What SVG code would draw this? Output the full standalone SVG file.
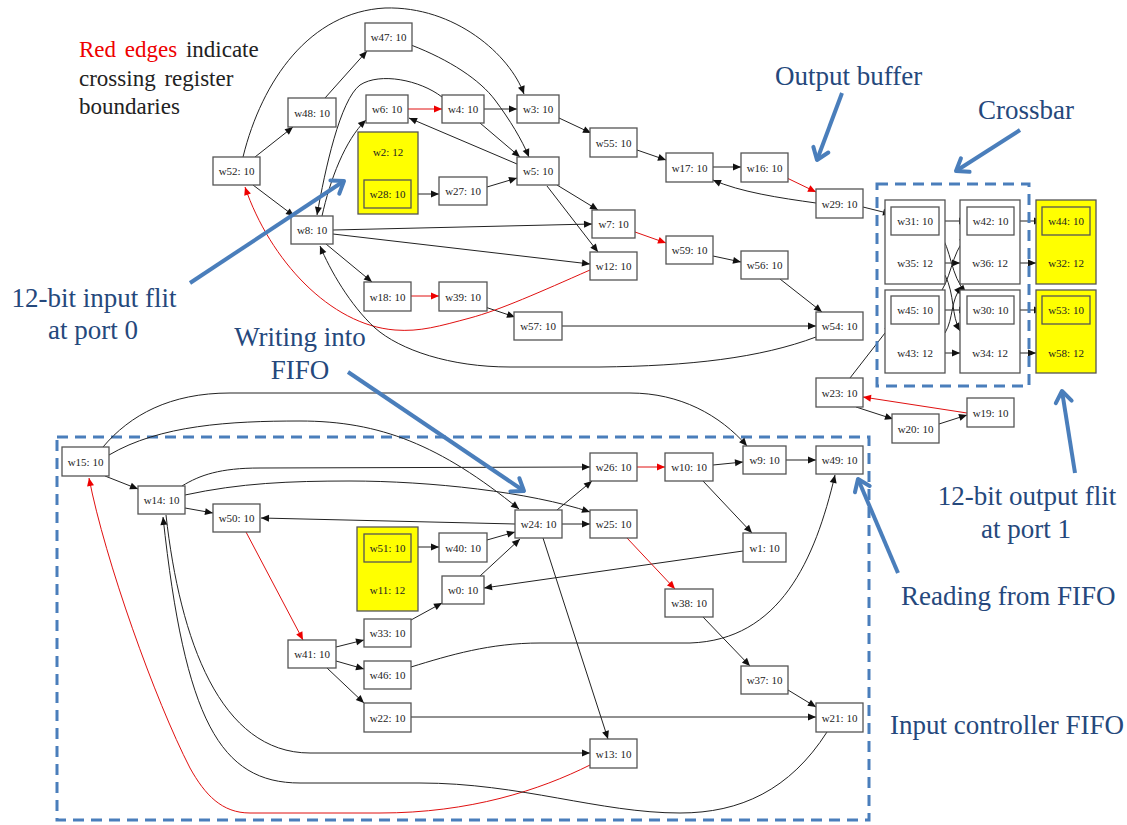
<svg xmlns="http://www.w3.org/2000/svg" width="1127" height="825" viewBox="0 0 1127 825">
<style>
.n rect{fill:#fff;stroke:#555;stroke-width:1.3}
.n rect.y{fill:#ffff00}
.n text{font-family:"Liberation Serif","Times New Roman",serif;font-size:11px;fill:#222;text-anchor:middle}
.e path{fill:none;stroke:#222;stroke-width:1;marker-end:url(#ah)}
.e path.r{stroke:#e01010;marker-end:url(#ahr)}
.dash{fill:none;stroke:#4a7ebb;stroke-width:3;stroke-dasharray:11 7}
.ba{fill:none;stroke:#4a7ebb;stroke-width:4;marker-end:url(#bh)}
.lbl{font-family:"Liberation Serif","Times New Roman",serif;font-size:27px;fill:#25487c}
.note{font-family:"Liberation Serif","Times New Roman",serif;font-size:23px;fill:#222;word-spacing:3px}
</style>
<defs>
<marker id="ah" markerUnits="userSpaceOnUse" markerWidth="9" markerHeight="8" refX="8" refY="3.5" orient="auto" overflow="visible"><path d="M0,0 L8,3.5 L0,7 z" fill="#111"/></marker>
<marker id="ahr" markerUnits="userSpaceOnUse" markerWidth="9" markerHeight="8" refX="8" refY="3.5" orient="auto" overflow="visible"><path d="M0,0 L8,3.5 L0,7 z" fill="#e00"/></marker>
<marker id="bh" markerUnits="userSpaceOnUse" markerWidth="16" markerHeight="16" refX="0" refY="0" orient="auto" overflow="visible"><path d="M-11,-8 L0,0 L-11,8" fill="none" stroke="#4a7ebb" stroke-width="4" stroke-linecap="round" stroke-linejoin="round"/></marker>
</defs>
<rect width="1127" height="825" fill="#fff"/>

<g id="annotations-text">
<text class="note" x="79" y="57"><tspan fill="#e00">Red edges</tspan> indicate</text>
<text class="note" x="79" y="86">crossing register</text>
<text class="note" x="79" y="114">boundaries</text>
<text class="lbl" x="775" y="85">Output buffer</text>
<text class="lbl" x="978" y="119">Crossbar</text>
<text class="lbl" x="94" y="307" text-anchor="middle">12-bit input flit</text>
<text class="lbl" x="93" y="339" text-anchor="middle">at port 0</text>
<text class="lbl" x="300" y="346" text-anchor="middle">Writing into</text>
<text class="lbl" x="300" y="379" text-anchor="middle">FIFO</text>
<text class="lbl" x="1027" y="505" text-anchor="middle">12-bit output flit</text>
<text class="lbl" x="1026" y="538" text-anchor="middle">at port 1</text>
<text class="lbl" x="901" y="605">Reading from FIFO</text>
<text class="lbl" x="890" y="734">Input controller FIFO</text>
</g>

<g id="regions">
<rect class="dash" x="57" y="437" width="812" height="383"/>
</g>

<g id="connectors" class="e">
<path d="M255,157 L293,127"/>
<path d="M325,98 L367,51"/>
<path d="M243,157 C262,80 310,12 385,8 C455,6 510,55 524,94"/>
<path d="M411,45 C450,60 480,80 495,100 C510,120 522,140 529,157"/>
<path class="r" d="M408,109 L442,109"/>
<path d="M484,109 L517,109"/>
<path d="M480,123 L520,157"/>
<path d="M517,164 L409,118"/>
<path d="M487,187 L517,178"/>
<path d="M411,194 L439,194"/>
<path d="M442,97 C420,80 380,72 360,85 C340,100 325,170 317,215"/>
<path d="M322,216 C330,180 345,140 366,120"/>
<path d="M559,118 L591,133"/>
<path d="M637,150 L666,160"/>
<path d="M713,167 L741,167"/>
<path class="r" d="M787,178 L816,192"/>
<path d="M816,203 C780,198 740,192 713,180"/>
<path d="M863,207 L891,214"/>
<path d="M557,185 L598,210"/>
<path d="M547,186 L598,252"/>
<path class="r" d="M635,232 L666,243"/>
<path d="M713,256 L741,262"/>
<path d="M780,279 L822,312"/>
<path d="M562,326 L816,326"/>
<path d="M485,307 L515,317"/>
<path class="r" d="M411,296 L439,296"/>
<path d="M326,244 L372,282"/>
<path d="M253,185 L294,216"/>
<path d="M333,230 L592,224"/>
<path d="M333,234 L590,264"/>
<path class="r" d="M590,270 C540,292 500,310 470,318 C440,326 420,332 395,330 C330,325 270,260 245,187"/>
<path d="M816,337 C760,358 690,366 600,367 L510,367 C450,367 400,350 375,328 C350,305 330,270 320,246"/>
<path d="M850,378 L892,324"/>
<path class="r" d="M967,413 L863,397"/>
<path d="M856,407 L893,419"/>
<path d="M939,424 L967,415"/>
<path d="M939,221 L967,221"/>
<path d="M945,263 L960,263"/>
<path d="M1014,221 L1042,221"/>
<path d="M1020,263 L1036,263"/>
<path d="M939,310 L967,310"/>
<path d="M945,353 L960,353"/>
<path d="M1014,310 L1042,310"/>
<path d="M1020,353 L1036,353"/>
<path d="M939,232 C952,250 950,275 966,293"/>
<path d="M945,275 C955,295 951,315 960,331"/>
<path d="M937,297 C952,280 950,255 967,236"/>
<path d="M945,333 C954,318 950,300 962,286"/>
<path d="M105,476 L138,489"/>
<path d="M185,508 L213,513"/>
<path class="r" d="M246,532 L303,640"/>
<path d="M336,647 L364,640"/>
<path d="M336,661 L364,669"/>
<path d="M327,668 L364,703"/>
<path d="M411,620 L442,603"/>
<path d="M411,547 L439,547"/>
<path d="M487,540 L515,532"/>
<path d="M480,576 L520,539"/>
<path d="M515,524 L261,518"/>
<path d="M557,510 L592,481"/>
<path d="M562,524 L590,524"/>
<path d="M543,538 L608,739"/>
<path class="r" d="M637,467 L665,467"/>
<path d="M713,465 L743,462"/>
<path d="M786,460 L816,460"/>
<path d="M703,481 L752,533"/>
<path d="M743,551 L484,588"/>
<path class="r" d="M627,538 L675,589"/>
<path d="M703,617 L750,666"/>
<path d="M788,690 L816,707"/>
<path d="M411,717 L816,717"/>
<path d="M411,667 C450,655 490,643 540,643 L690,643 C780,640 815,560 835,475"/>
<path d="M103,447 C130,415 170,393 230,393 L630,393 C680,393 720,415 747,446"/>
<path d="M109,455 C160,425 230,421 300,421 C380,421 440,445 519,509"/>
<path d="M182,486 C200,475 220,468 260,468 L590,467"/>
<path d="M185,495 C240,483 290,481 350,481 C430,481 530,492 590,512"/>
<path class="r" d="M590,765 C540,790 470,813 380,813 L250,813 C222,813 205,795 190,768 C155,700 105,560 89,478"/>
<path d="M166,515 C180,640 220,753 310,753 L590,753"/>
<path d="M827,732 C790,790 740,813 680,813 C600,813 520,783 420,783 L300,783 C220,783 185,720 163,517"/>
</g>

<g id="crossbar-region">
<rect class="dash" x="877" y="184" width="152" height="202"/>
</g>

<g class="n">
<g id="w47"><rect x="365" y="23" width="47" height="28"/><text x="388.5" y="41">w47: 10</text></g>
<g id="w48"><rect x="288" y="98" width="48" height="29"/><text x="312" y="116.5">w48: 10</text></g>
<g id="w52"><rect x="213" y="157" width="47" height="28"/><text x="236.5" y="175">w52: 10</text></g>
<g id="w6"><rect x="366" y="95" width="42" height="28"/><text x="387" y="113">w6: 10</text></g>
<g id="w4"><rect x="442" y="95" width="42" height="28"/><text x="463" y="113">w4: 10</text></g>
<g id="w3"><rect x="517" y="95" width="42" height="28"/><text x="538" y="113">w3: 10</text></g>
<g id="w55"><rect x="590" y="128" width="47" height="29"/><text x="613.5" y="146.5">w55: 10</text></g>
<g id="w5"><rect x="517" y="157" width="42" height="28"/><text x="538" y="175">w5: 10</text></g>
<g id="w27"><rect x="439" y="177" width="48" height="28"/><text x="463" y="195">w27: 10</text></g>
<g id="w2"><rect class="y" x="358" y="132" width="60" height="82"/><text x="388" y="156">w2: 12</text>
<g id="w28"><rect class="y" x="364" y="180" width="47" height="28"/><text x="387.5" y="198">w28: 10</text></g></g>
<g id="w8"><rect x="291" y="216" width="42" height="28"/><text x="312" y="234">w8: 10</text></g>
<g id="w18"><rect x="364" y="282" width="47" height="29"/><text x="387.5" y="300.5">w18: 10</text></g>
<g id="w39"><rect x="439" y="282" width="48" height="29"/><text x="463" y="300.5">w39: 10</text></g>
<g id="w57"><rect x="514" y="312" width="48" height="28"/><text x="538" y="330">w57: 10</text></g>
<g id="w7"><rect x="592" y="210" width="43" height="28"/><text x="613.5" y="228">w7: 10</text></g>
<g id="w12"><rect x="590" y="252" width="47" height="28"/><text x="613.5" y="270">w12: 10</text></g>
<g id="w17"><rect x="666" y="153" width="47" height="29"/><text x="689.5" y="171.5">w17: 10</text></g>
<g id="w16"><rect x="741" y="153" width="47" height="29"/><text x="764.5" y="171.5">w16: 10</text></g>
<g id="w59"><rect x="666" y="236" width="47" height="28"/><text x="689.5" y="254">w59: 10</text></g>
<g id="w56"><rect x="741" y="251" width="47" height="28"/><text x="764.5" y="269">w56: 10</text></g>
<g id="w29"><rect x="816" y="189" width="47" height="29"/><text x="839.5" y="207.5">w29: 10</text></g>
<g id="w54"><rect x="816" y="312" width="47" height="28"/><text x="839.5" y="330">w54: 10</text></g>
<g id="w23"><rect x="816" y="378" width="47" height="29"/><text x="839.5" y="396.5">w23: 10</text></g>
<g id="w19"><rect x="967" y="398" width="47" height="29"/><text x="990.5" y="416.5">w19: 10</text></g>
<g id="w20"><rect x="892" y="414" width="47" height="29"/><text x="915.5" y="432.5">w20: 10</text></g>

<g id="w35"><rect x="885" y="200" width="60" height="84"/><text x="915" y="267">w35: 12</text>
<g id="w31"><rect x="891" y="207" width="48" height="28"/><text x="915" y="225">w31: 10</text></g></g>
<g id="w36"><rect x="960" y="200" width="60" height="84"/><text x="990" y="267">w36: 12</text>
<g id="w42"><rect x="967" y="207" width="47" height="28"/><text x="990.5" y="225">w42: 10</text></g></g>
<g id="w32"><rect class="y" x="1036" y="200" width="60" height="84"/><text x="1066" y="267">w32: 12</text>
<g id="w44"><rect class="y" x="1042" y="207" width="48" height="28"/><text x="1066" y="225">w44: 10</text></g></g>
<g id="w43"><rect x="885" y="290" width="60" height="83"/><text x="915" y="357">w43: 12</text>
<g id="w45"><rect x="891" y="296" width="48" height="28"/><text x="915" y="314">w45: 10</text></g></g>
<g id="w34"><rect x="960" y="290" width="60" height="83"/><text x="990" y="357">w34: 12</text>
<g id="w30"><rect x="967" y="296" width="47" height="28"/><text x="990.5" y="314">w30: 10</text></g></g>
<g id="w58"><rect class="y" x="1036" y="290" width="60" height="83"/><text x="1066" y="357">w58: 12</text>
<g id="w53"><rect class="y" x="1042" y="296" width="48" height="28"/><text x="1066" y="314">w53: 10</text></g></g>

<g id="w15"><rect x="62" y="447" width="47" height="29"/><text x="85.5" y="465.5">w15: 10</text></g>
<g id="w14"><rect x="138" y="486" width="47" height="28"/><text x="161.5" y="504">w14: 10</text></g>
<g id="w50"><rect x="213" y="504" width="47" height="28"/><text x="236.5" y="522">w50: 10</text></g>
<g id="w41"><rect x="288" y="640" width="48" height="28"/><text x="312" y="658">w41: 10</text></g>
<g id="w11"><rect class="y" x="357" y="527" width="61" height="84"/><text x="387.5" y="594">w11: 12</text>
<g id="w51"><rect class="y" x="364" y="534" width="47" height="28"/><text x="387.5" y="552">w51: 10</text></g></g>
<g id="w33"><rect x="364" y="619" width="47" height="28"/><text x="387.5" y="637">w33: 10</text></g>
<g id="w46"><rect x="364" y="661" width="47" height="28"/><text x="387.5" y="679">w46: 10</text></g>
<g id="w22"><rect x="364" y="703" width="47" height="29"/><text x="387.5" y="721.5">w22: 10</text></g>
<g id="w40"><rect x="439" y="533" width="48" height="29"/><text x="463" y="551.5">w40: 10</text></g>
<g id="w0"><rect x="442" y="576" width="42" height="28"/><text x="463" y="594">w0: 10</text></g>
<g id="w24"><rect x="515" y="510" width="47" height="28"/><text x="538.5" y="528">w24: 10</text></g>
<g id="w26"><rect x="590" y="453" width="47" height="28"/><text x="613.5" y="471">w26: 10</text></g>
<g id="w25"><rect x="590" y="510" width="47" height="28"/><text x="613.5" y="528">w25: 10</text></g>
<g id="w13"><rect x="590" y="739" width="47" height="29"/><text x="613.5" y="757.5">w13: 10</text></g>
<g id="w10"><rect x="665" y="453" width="48" height="28"/><text x="689" y="471">w10: 10</text></g>
<g id="w38"><rect x="665" y="589" width="48" height="28"/><text x="689" y="607">w38: 10</text></g>
<g id="w9"><rect x="743" y="446" width="43" height="28"/><text x="764.5" y="464">w9: 10</text></g>
<g id="w1"><rect x="743" y="533" width="43" height="29"/><text x="764.5" y="551.5">w1: 10</text></g>
<g id="w37"><rect x="741" y="666" width="47" height="28"/><text x="764.5" y="684">w37: 10</text></g>
<g id="w49"><rect x="816" y="446" width="47" height="28"/><text x="839.5" y="464">w49: 10</text></g>
<g id="w21"><rect x="816" y="703" width="47" height="29"/><text x="839.5" y="721.5">w21: 10</text></g>
</g>

<g id="callout-arrows">
<path class="ba" d="M842,93 L817,160"/>
<path class="ba" d="M1020,130 L956,171"/>
<path class="ba" d="M190,283 L344,181"/>
<path class="ba" d="M348,372 L524,491"/>
<path class="ba" d="M898,573 L858,479"/>
<path class="ba" d="M1075,473 L1062,391"/>
</g>
</svg>
